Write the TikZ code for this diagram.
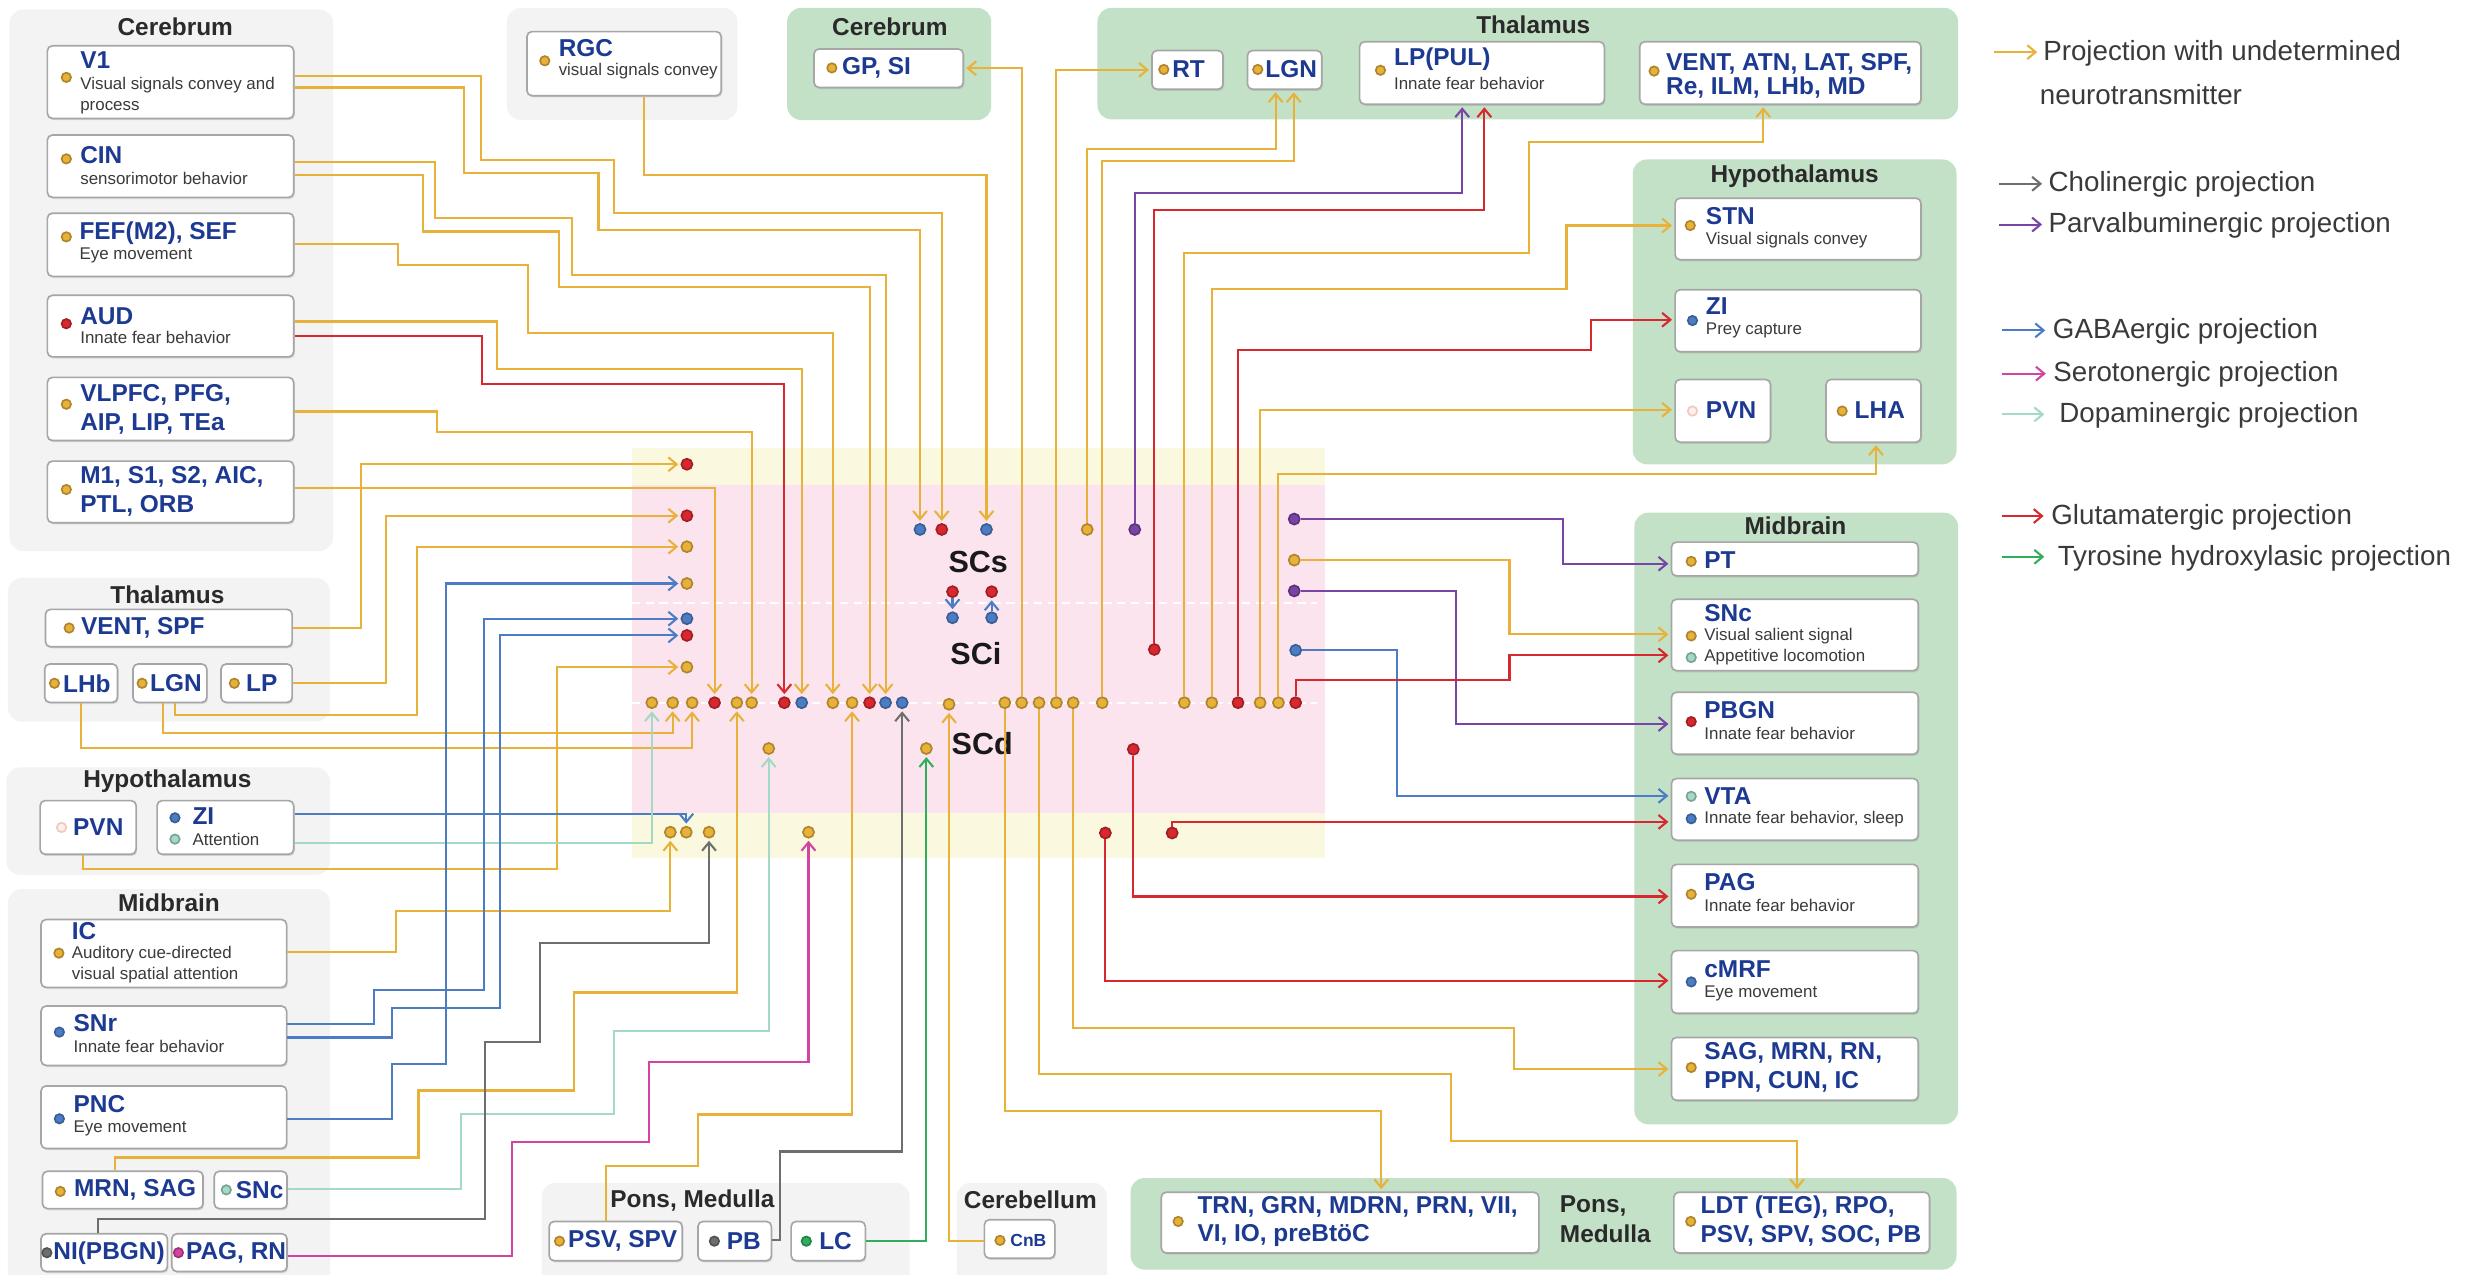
\documentclass[tikz,border=0pt]{standalone}
\usepackage{fontspec}
\setmainfont{Liberation Sans}
\usetikzlibrary{arrows.meta,fit,shadows}
\definecolor{cy}{HTML}{E8B23A}
\definecolor{cr}{HTML}{D7282F}
\definecolor{cb}{HTML}{4C7DC4}
\definecolor{cp}{HTML}{7A44A6}
\definecolor{cg}{HTML}{6E6E6E}
\definecolor{cm}{HTML}{D243A2}
\definecolor{cd}{HTML}{A3D9C5}
\definecolor{ct}{HTML}{2FAE5C}
\definecolor{navy}{HTML}{1D3A92}
\definecolor{inkgray}{HTML}{2A2A2A}
\definecolor{dscgray}{HTML}{3A3A3A}
\definecolor{pangray}{HTML}{F3F3F3}
\definecolor{pangreen}{HTML}{C3E1C6}
\definecolor{scyellow}{HTML}{FAF8DF}
\definecolor{scpink}{HTML}{FBE4EE}
\definecolor{pvnring}{HTML}{F4C6BD}
\definecolor{pvnfill}{HTML}{FDF1EE}
\tikzset{
  gpan/.style={fill=pangray,rounded corners=5pt,inner sep=0pt},
  grpan/.style={fill=pangreen,rounded corners=5pt,inner sep=0pt},
  rbox/.style={draw=black!35,fill=white,rounded corners=1.8pt,line width=0.6pt,inner sep=0pt,drop shadow={shadow xshift=0.4pt,shadow yshift=-0.6pt,opacity=0.25}},
  hdr/.style={font=\fontsize{8.8}{10}\selectfont\bfseries,text=inkgray,inner sep=0pt},
  lbl/.style={font=\fontsize{8.8}{10.4}\selectfont\bfseries,text=navy,anchor=west,inner sep=0pt,align=left},
  dsc/.style={font=\fontsize{6.1}{7.4}\selectfont,text=dscgray,anchor=west,inner sep=0pt,align=left},
  sclbl/.style={font=\fontsize{11}{12}\selectfont\bfseries,text=black!90,inner sep=0pt},
  lgd/.style={font=\fontsize{10}{12}\selectfont,text=dscgray,anchor=west,inner sep=0pt},
  sdot/.style={circle,inner sep=0pt,minimum size=4pt,line width=0.6pt,fill=#1,draw=#1!75!black},
  bdot/.style={sdot=#1,minimum size=3.4pt},
  pvdot/.style={circle,inner sep=0pt,minimum size=3.4pt,line width=0.6pt,fill=pvnfill,draw=pvnring},
  pj/.style={draw=#1,line width=0.75pt,-{Straight Barb[length=3pt,width=5pt]},shorten >=0.8pt},
}
\begin{document}
\begin{tikzpicture}[x=0.02cm,y=-0.02cm]
\useasboundingbox (0,0) rectangle (1568,807.4);
\node[gpan,fit={(6,6) (211,349)}] (cerLpan) {};
\node[gpan,fit={(321,5) (467,76)}] (rgcpan) {};
\node[gpan,fit={(5,366) (209,457)}] (thaLpan) {};
\node[gpan,fit={(4,486) (209,554)}] (hypLpan) {};
\node[gpan,fit={(5,563) (209,830)}] (midLpan) {};
\node[gpan,fit={(343,749) (576,830)}] (ponLpan) {};
\node[gpan,fit={(606,749) (701,830)}] (cbepan) {};
\node[grpan,fit={(498.5,5) (627.7,76)}] (cerRpan) {};
\node[grpan,fit={(695,5) (1240,75.6)}] (thaRpan) {};
\node[grpan,fit={(1034,101) (1239,294)}] (hypRpan) {};
\node[grpan,fit={(1035,324.7) (1240,712)}] (midRpan) {};
\node[grpan,fit={(716,746) (1239,804)}] (ponRpan) {};
\fill[scyellow] (400,284) rectangle (839,543.6);
\fill[scpink] (400,307) rectangle (839,515);
\draw[white,line width=0.6pt,dash pattern=on 3pt off 2pt] (400,382) -- (834,382);
\draw[white,line width=0.6pt,dash pattern=on 3pt off 2pt] (400,445) -- (834,445);
\node[sclbl] (scs) at (619.5,356) {SCs};
\node[sclbl] (sci) at (618,414) {SCi};
\node[sclbl] (scd) at (622,471) {SCd};
\node[hdr] (cerLhdr) at (111,17) {Cerebrum};
\node[hdr] (thaLhdr) at (106,376.5) {Thalamus};
\node[hdr] (hypLhdr) at (106,495) {Hypothalamus};
\node[hdr] (midLhdr) at (107,572) {Midbrain};
\node[hdr] (ponLhdr) at (438.5,760) {Pons, Medulla};
\node[hdr] (cbehdr) at (652.5,760) {Cerebellum};
\node[hdr] (cerRhdr) at (563.5,17) {Cerebrum};
\node[hdr] (thaRhdr) at (971,16) {Thalamus};
\node[hdr] (hypRhdr) at (1136.5,111.5) {Hypothalamus};
\node[hdr] (midRhdr) at (1137,333) {Midbrain};
\node[hdr,anchor=west] (ponRa) at (987.5,764) {Pons,};
\node[hdr,anchor=west] (ponRb) at (987.5,781) {Medulla};
\node[rbox,fit={(30,29) (186,75)}] (v1box) {};
\node[bdot=cy] (v1dot) at (42,49) {};
\node[lbl] (v1lbl) at (50.5,38) {V1};
\node[dsc] (v1dsc) at (50.5,60.5) {Visual signals convey and\\process};
\node[rbox,fit={(30,85.5) (186,125)}] (cinbox) {};
\node[bdot=cy] (cindot) at (42,100.6) {};
\node[lbl] (cinlbl) at (50.5,98) {CIN};
\node[dsc] (cindsc) at (50.5,113) {sensorimotor behavior};
\node[rbox,fit={(30,135) (186,175)}] (fefbox) {};
\node[bdot=cy] (fefdot) at (42,150) {};
\node[lbl] (feflbl) at (50,147.5) {FEF(M2), SEF};
\node[dsc] (fefdsc) at (50,162) {Eye movement};
\node[rbox,fit={(30,187) (186,226)}] (audbox) {};
\node[bdot=cr] (auddot) at (42,205) {};
\node[lbl] (audlbl) at (50.5,200) {AUD};
\node[dsc] (auddsc) at (50.5,214) {Innate fear behavior};
\node[rbox,fit={(30,239) (186,279)}] (vlpbox) {};
\node[bdot=cy] (vlpdot) at (42,256) {};
\node[lbl] (vlplbl) at (50.5,259) {VLPFC, PFG,\\AIP, LIP, TEa};
\node[rbox,fit={(30,292) (186,331)}] (motbox) {};
\node[bdot=cy] (motdot) at (42,310) {};
\node[lbl] (motlbl) at (50.5,311) {M1, S1, S2, AIC,\\PTL, ORB};
\node[rbox,fit={(333.7,20) (456.7,60.6)}] (rgcbox) {};
\node[bdot=cy] (rgcdot) at (345,38.5) {};
\node[lbl] (rgclbl) at (353.5,30.5) {RGC};
\node[dsc] (rgcdsc) at (353.5,45) {visual signals convey};
\node[rbox,fit={(515.5,31) (610,55.4)}] (gpsibox) {};
\node[bdot=cy] (gpsidot) at (526.8,43) {};
\node[lbl] (gpsilbl) at (533,43) {GP, SI};
\node[rbox,fit={(729.5,32) (774.5,56.5)}] (rtbox) {};
\node[bdot=cy] (rtdot) at (737,44) {};
\node[lbl] (rtlbl) at (742,44) {RT};
\node[rbox,fit={(790,32) (837,56.5)}] (lgnRbox) {};
\node[bdot=cy] (lgnRdot) at (796.5,44) {};
\node[lbl] (lgnRlbl) at (801,44) {LGN};
\node[rbox,fit={(861,26.4) (1016,66)}] (lppbox) {};
\node[bdot=cy] (lppdot) at (874.2,44.5) {};
\node[lbl] (lpplbl) at (882.5,37.7) {LP(PUL)};
\node[dsc] (lppdsc) at (882.5,52.8) {Innate fear behavior};
\node[rbox,fit={(1038.4,26.4) (1216.5,66)}] (ventRbox) {};
\node[bdot=cy] (ventRdot) at (1047.5,45) {};
\node[lbl,font=\fontsize{8.8}{8.8}\selectfont\bfseries] (ventRlbl) at (1054.8,47.9) {VENT, ATN, LAT, SPF,\\Re, ILM, LHb, MD};
\node[rbox,fit={(1060.8,125.5) (1216.5,164.5)}] (stnbox) {};
\node[bdot=cy] (stndot) at (1070.4,142.8) {};
\node[lbl] (stnlbl) at (1080,136.7) {STN};
\node[dsc] (stndsc) at (1080,151.9) {Visual signals convey};
\node[rbox,fit={(1060.8,183.5) (1216.5,222.8)}] (ziRbox) {};
\node[bdot=cb] (ziRdot) at (1071.8,203) {};
\node[lbl] (ziRlbl) at (1080,194) {ZI};
\node[dsc] (ziRdsc) at (1080,209.4) {Prey capture};
\node[rbox,fit={(1060.8,240.3) (1121.2,280)}] (pvnRbox) {};
\node[pvdot] (pvnRdot) at (1071.8,260.3) {};
\node[lbl] (pvnRlbl) at (1080,260) {PVN};
\node[rbox,fit={(1156.4,240.3) (1216.5,280)}] (lhabox) {};
\node[bdot=cy] (lhadot) at (1166.6,260.3) {};
\node[lbl] (lhalbl) at (1174.2,260) {LHA};
\node[rbox,fit={(1058.5,343.3) (1214.8,364.7)}] (ptbox) {};
\node[bdot=cy] (ptdot) at (1071,355.5) {};
\node[lbl] (ptlbl) at (1079,354.4) {PT};
\node[rbox,fit={(1058.5,379.5) (1214.8,424.7)}] (sncRbox) {};
\node[lbl] (sncRlbl) at (1079,388) {SNc};
\node[bdot=cy] (sncRdota) at (1071,402.7) {};
\node[dsc] (sncRdsca) at (1079,402.7) {Visual salient signal};
\node[bdot=cd] (sncRdotb) at (1071,416.4) {};
\node[dsc] (sncRdscb) at (1079,416.4) {Appetitive locomotion};
\node[rbox,fit={(1058.5,438.4) (1214.8,477.6)}] (pbgnbox) {};
\node[bdot=cr] (pbgndot) at (1071,457) {};
\node[lbl] (pbgnlbl) at (1079,449.5) {PBGN};
\node[dsc] (pbgndsc) at (1079,464.2) {Innate fear behavior};
\node[rbox,fit={(1058.5,493) (1214.8,532)}] (vtabox) {};
\node[bdot=cd] (vtadota) at (1071,504.3) {};
\node[lbl] (vtalbl) at (1079,504) {VTA};
\node[bdot=cb] (vtadotb) at (1071,518.5) {};
\node[dsc] (vtadsc) at (1079,518.5) {Innate fear behavior, sleep};
\node[rbox,fit={(1058.5,547.4) (1214.8,587)}] (pagRbox) {};
\node[bdot=cy] (pagRdot) at (1071,566.3) {};
\node[lbl] (pagRlbl) at (1079,558.5) {PAG};
\node[dsc] (pagRdsc) at (1079,573.3) {Innate fear behavior};
\node[rbox,fit={(1058.5,602) (1214.8,641.7)}] (cmrfbox) {};
\node[bdot=cb] (cmrfdot) at (1071,621.8) {};
\node[lbl] (cmrflbl) at (1079,614) {cMRF};
\node[dsc] (cmrfdsc) at (1079,629) {Eye movement};
\node[rbox,fit={(1058.5,657) (1214.8,696.8)}] (sagbox) {};
\node[bdot=cy] (sagdot) at (1071,676) {};
\node[lbl] (saglbl) at (1079,676) {SAG, MRN, RN,\\PPN, CUN, IC};
\node[rbox,fit={(28.8,385.9) (185,409.6)}] (vspfbox) {};
\node[bdot=cy] (vspfdot) at (43.8,397.7) {};
\node[lbl] (vspflbl) at (51,397.7) {VENT, SPF};
\node[rbox,fit={(28.3,420.5) (74.4,444.8)}] (lhbbox) {};
\node[bdot=cy] (lhbdot) at (34.5,432.7) {};
\node[lbl] (lhblbl) at (39.6,432.7) {LHb};
\node[rbox,fit={(84.2,420.5) (131,444.8)}] (lgnLbox) {};
\node[bdot=cy] (lgnLdot) at (90,432.7) {};
\node[lbl] (lgnLlbl) at (94.7,432.7) {LGN};
\node[rbox,fit={(140,420.5) (185,444.8)}] (lpLbox) {};
\node[bdot=cy] (lpLdot) at (148.4,432.7) {};
\node[lbl] (lpLlbl) at (155.5,432.7) {LP};
\node[rbox,fit={(25.4,507) (86.2,541)}] (pvnLbox) {};
\node[pvdot] (pvnLdot) at (39,524) {};
\node[lbl] (pvnLlbl) at (46,524) {PVN};
\node[rbox,fit={(99.5,507) (186,541)}] (ziLbox) {};
\node[bdot=cb] (ziLdota) at (110.8,517.9) {};
\node[lbl] (ziLlbl) at (121.6,517) {ZI};
\node[bdot=cd] (ziLdotb) at (110.8,531.4) {};
\node[dsc] (ziLdsc) at (121.6,531.4) {Attention};
\node[rbox,fit={(26,582.3) (181.5,625.3)}] (icbox) {};
\node[lbl] (iclbl) at (45.2,589.5) {IC};
\node[bdot=cy] (icdot) at (37.3,603.6) {};
\node[dsc] (icdsc) at (45.2,610.8) {Auditory cue-directed\\visual spatial attention};
\node[rbox,fit={(26,637.1) (181.5,674.7)}] (snrbox) {};
\node[bdot=cb] (snrdot) at (37.6,653.6) {};
\node[lbl] (snrlbl) at (46.3,648) {SNr};
\node[dsc] (snrdsc) at (46.3,663) {Innate fear behavior};
\node[rbox,fit={(26,687.7) (181.5,727.3)}] (pncbox) {};
\node[bdot=cb] (pncdot) at (37.6,708.5) {};
\node[lbl] (pnclbl) at (46.3,699.2) {PNC};
\node[dsc] (pncdsc) at (46.3,714.3) {Eye movement};
\node[rbox,fit={(26.9,741.7) (128.6,765.4)}] (mrnbox) {};
\node[bdot=cy] (mrndot) at (38.2,754.5) {};
\node[lbl] (mrnlbl) at (46.6,753.5) {MRN, SAG};
\node[rbox,fit={(135.7,741.7) (181.8,765.4)}] (sncLbox) {};
\node[bdot=cd] (sncLdot) at (143.3,753.5) {};
\node[lbl] (sncLlbl) at (149,753.5) {SNc};
\node[rbox,fit={(26,781.3) (106,805.2)}] (nibox) {};
\node[bdot=cg] (nidot) at (29.7,793.3) {};
\node[lbl] (nilbl) at (33.5,793.3) {NI(PBGN)};
\node[rbox,fit={(108.8,781.3) (181.8,805.2)}] (pagLbox) {};
\node[bdot=cm] (pagLdot) at (113,793.3) {};
\node[lbl] (pagLlbl) at (117.5,793.3) {PAG, RN};
\node[rbox,fit={(347.8,773.5) (432,798.4)}] (psvbox) {};
\node[bdot=cy] (psvdot) at (354.3,786) {};
\node[lbl] (psvlbl) at (359.5,786) {PSV, SPV};
\node[rbox,fit={(442,773.5) (488.5,798.4)}] (pbbox) {};
\node[bdot=cg] (pbdot) at (452.4,786) {};
\node[lbl] (pblbl) at (460,786) {PB};
\node[rbox,fit={(501,773.5) (548,798.4)}] (lcbox) {};
\node[bdot=ct] (lcdot) at (510.6,786) {};
\node[lbl] (lclbl) at (518.5,786) {LC};
\node[rbox,fit={(623.4,772.4) (668,796.8)}] (cnbbox) {};
\node[bdot=cy] (cnbdot) at (633.3,785.5) {};
\node[lbl,font=\fontsize{6.3}{7}\selectfont\bfseries] (cnblbl) at (639.5,785.5) {CnB};
\node[rbox,fit={(735.4,755) (974.5,793.5)}] (trnbox) {};
\node[bdot=cy] (trndot) at (746.1,773.5) {};
\node[lbl] (trnlbl) at (758,773.5) {TRN, GRN, MDRN, PRN, VII,\\VI, IO, preBtöC};
\node[rbox,fit={(1060,755) (1221.9,793.5)}] (ldtbox) {};
\node[bdot=cy] (ldtdot) at (1070.7,773.5) {};
\node[lbl] (ldtlbl) at (1076.6,773.5) {LDT (TEG), RPO,\\PSV, SPV, SOC, PB};
\node[sdot=cr] (e1) at (435,294) {};
\node[sdot=cr] (e2) at (435,326.6) {};
\node[sdot=cy] (e3) at (435,346.2) {};
\node[sdot=cy] (e4) at (435,369.5) {};
\node[sdot=cb] (e5) at (435,391.8) {};
\node[sdot=cr] (e6) at (435,402.4) {};
\node[sdot=cy] (e7) at (435,422.5) {};
\node[sdot=cb] (t1) at (582.6,335.3) {};
\node[sdot=cr] (t2) at (596.4,335.3) {};
\node[sdot=cb] (t3) at (624.7,335.3) {};
\node[sdot=cy] (t4) at (688.5,335.3) {};
\node[sdot=cp] (t5) at (718.6,335.3) {};
\node[sdot=cr] (i1) at (603.2,374.7) {};
\node[sdot=cb] (i2) at (603.2,391.2) {};
\node[sdot=cb] (i3) at (628,391.2) {};
\node[sdot=cr] (i4) at (628,374.7) {};
\node[sdot=cp] (r1) at (819.6,328.7) {};
\node[sdot=cy] (r2) at (819.6,354.7) {};
\node[sdot=cp] (r3) at (819.6,374.2) {};
\node[sdot=cb] (r4) at (820.5,411.8) {};
\node[sdot=cr] (ired) at (731,411.3) {};
\node[sdot=cy] (s1) at (412.8,445) {};
\node[sdot=cy] (s2) at (426,445) {};
\node[sdot=cy] (s3) at (438.3,445) {};
\node[sdot=cr] (s4) at (452.5,445) {};
\node[sdot=cy] (s5) at (466.6,445) {};
\node[sdot=cy] (s6) at (476,445) {};
\node[sdot=cr] (s7) at (496.7,445) {};
\node[sdot=cb] (s8) at (507.7,445) {};
\node[sdot=cy] (s9) at (527.4,445) {};
\node[sdot=cy] (s10) at (539.6,445) {};
\node[sdot=cr] (s11) at (550.7,445) {};
\node[sdot=cb] (s12) at (560.8,445) {};
\node[sdot=cb] (s13) at (571.3,445) {};
\node[sdot=cy] (s14) at (601,446) {};
\node[sdot=cy] (s15) at (636.3,445) {};
\node[sdot=cy] (s16) at (647,445) {};
\node[sdot=cy] (s17) at (658,445) {};
\node[sdot=cy] (s18) at (669,445) {};
\node[sdot=cy] (s19) at (679.6,445) {};
\node[sdot=cy] (s20) at (698,445) {};
\node[sdot=cy] (s21) at (750,445) {};
\node[sdot=cy] (s22) at (767.4,445) {};
\node[sdot=cr] (s23) at (784,445) {};
\node[sdot=cy] (s24) at (798,445) {};
\node[sdot=cy] (s25) at (809.6,445) {};
\node[sdot=cr] (s26) at (820.5,445) {};
\node[sdot=cy] (d1) at (486.8,474) {};
\node[sdot=cy] (d2) at (586.6,474) {};
\node[sdot=cr] (d3) at (717.7,474.5) {};
\node[sdot=cy] (b1) at (424.5,527) {};
\node[sdot=cy] (b2) at (434.6,527) {};
\node[sdot=cy] (b3) at (449,527) {};
\node[sdot=cy] (b4) at (512,527) {};
\node[sdot=cr] (b5) at (700,527.5) {};
\node[sdot=cr] (b6) at (742.3,527.5) {};
\draw[pj=cy] (v1box.east |- 0,48) -| (304.5,101.3) -| (389,134.6) -| (t2);
\draw[pj=cy] (v1box.east |- 0,55.4) -| (294,109.3) -| (379,145.4) -| (t1);
\draw[pj=cy] (rgcbox.south -| 407.7,0) -- (407.7,110.8) -| (t3);
\draw[pj=cy] (cinbox.east |- 0,102.5) -| (275.6,138) -| (362.5,174.2) -| (s12);
\draw[pj=cy] (cinbox.east |- 0,111) -| (268,146.6) -| (354,182) -| (s11);
\draw[pj=cy] (fefbox.east |- 0,154.5) -| (252,168) -| (334.5,210.8) -| (s9);
\draw[pj=cy] (audbox.east |- 0,203.6) -| (315,233.4) -| (s8);
\draw[pj=cr] (audbox.east |- 0,212.6) -| (305,243) -| (s7);
\draw[pj=cy] (vlpbox.east |- 0,260.6) -| (276.5,273.7) -| (s6);
\draw[pj=cy] (motbox.east |- 0,309.2) -| (s4);
\draw[pj=cy] (vspfbox.east) -| (228.4,294) -- (e1);
\draw[pj=cy] (lpLbox.east) -| (244.5,326.6) -- (e2);
\draw[pj=cy] (lgnLbox.south -| 111,0) -- (111,452.9) -| (264.3,346.2) -- (e3);
\draw[pj=cy] (lgnLbox.south -| 103.2,0) -- (103.2,463.9) -| (s2);
\draw[pj=cy] (lhbbox.south -| 51.5,0) -- (51.5,473.7) -| (s3);
\draw[pj=cy] (pvnLbox.south -| 52.3,0) -- (52.3,550.5) -| (352.8,422.5) -- (e7);
\draw[pj=cb] (ziLbox.east |- 0,515.6) -| (b2);
\draw[pj=cd] (ziLbox.east |- 0,533.8) -| (s1);
\draw[pj=cy] (icbox.east |- 0,603) -| (251,577) -| (b1);
\draw[pj=cb] (snrbox.east |- 0,648.4) -| (237,627) -| (306.7,391.8) -- (e5);
\draw[pj=cb] (snrbox.east |- 0,657) -| (248,638.6) -| (316.6,402.4) -- (e6);
\draw[pj=cb] (pncbox.east |- 0,708.5) -| (248,673.8) -| (282.7,369.5) -- (e4);
\draw[pj=cy] (mrnbox.north -| 73,0) -- (73,733) -| (265,690.6) -| (363.3,628.5) -| (s5);
\draw[pj=cd] (sncLbox.east |- 0,753.2) -| (292,705.6) -| (388.7,653) -| (d1);
\draw[pj=cg] (nibox.north -| 62.2,0) -- (62.2,772) -| (307.2,660) -| (342,597) -| (b3);
\draw[pj=cm] (pagLbox.east |- 0,795.5) -| (324.5,723) -| (410.8,672.7) -| (b4);
\draw[pj=cy] (psvbox.north -| 384,0) -- (384,738.3) -| (442,705.8) -| (s10);
\draw[pj=cg] (pbbox.east |- 0,785) -| (494,729.2) -| (s13);
\draw[pj=ct] (lcbox.east |- 0,785.6) -| (d2);
\draw[pj=cy] (cnbbox.west |- 0,786) -| (s14);
\draw[pj=cb] (i1) -- (i2);
\draw[pj=cb] (i3) -- (i4);
\draw[pj=cy] (s16) |- (gpsibox.east);
\draw[pj=cy] (s18) |- (rtbox.west);
\draw[pj=cy] (t4) |- (807.8,94.5) -- (lgnRbox.south -| 807.8,0);
\draw[pj=cy] (s20) |- (819.3,102.2) -- (lgnRbox.south -| 819.3,0);
\draw[pj=cp] (t5) |- (926,122) -- (lppbox.south -| 926,0);
\draw[pj=cr] (ired) |- (940,133) -- (lppbox.south -| 940,0);
\draw[pj=cy] (s21) |- (968,160) |- (1116.6,89.8) -- (ventRbox.south -| 1116.6,0);
\draw[pj=cy] (s22) |- (992,183) |- (stnbox.west |- 0,142.8);
\draw[pj=cr] (s23) |- (1007.4,221.6) |- (ziRbox.west |- 0,202.5);
\draw[pj=cy] (s24) |- (pvnRbox.west |- 0,259.5);
\draw[pj=cy] (s25) |- (1188,300) -- (lhabox.south -| 1188,0);
\draw[pj=cp] (r1) -| (990,357) -- (ptbox.west |- 0,357);
\draw[pj=cy] (r2) -| (955.9,401.7) -- (sncRbox.west |- 0,401.7);
\draw[pj=cp] (r3) -| (922.2,458.5) -- (pbgnbox.west |- 0,458.5);
\draw[pj=cb] (r4) -| (884.5,504) -- (vtabox.west |- 0,504);
\draw[pj=cr] (s26) |- (955.9,430.6) |- (sncRbox.west |- 0,415);
\draw[pj=cr] (b6) |- (vtabox.west |- 0,520.5);
\draw[pj=cr] (d3) |- (pagRbox.west |- 0,567.7);
\draw[pj=cr] (b5) |- (cmrfbox.west |- 0,621);
\draw[pj=cy] (s19) |- (959,651) |- (sagbox.west |- 0,677);
\draw[pj=cy] (s17) |- (918.8,680) |- (1138,722.5) -- (ldtbox.north -| 1138,0);
\draw[pj=cy] (s15) |- (874.7,703.6) -- (trnbox.north -| 874.7,0);
\coordinate (lga1) at (1263,33);
\coordinate (lgb1) at (1291.5,33);
\draw[pj=cy] (lga1) -- (lgb1);
\node[lgd] (lgt1) at (1293.6,34) {Projection with undetermined};
\node[lgd] (lgt1b) at (1291.5,60) {neurotransmitter};
\coordinate (lga2) at (1266,116.4);
\coordinate (lgb2) at (1294.6,116.4);
\draw[pj=cg] (lga2) -- (lgb2);
\node[lgd] (lgt2) at (1297,117) {Cholinergic projection};
\coordinate (lga3) at (1266,142.2);
\coordinate (lgb3) at (1294.6,142.2);
\draw[pj=cp] (lga3) -- (lgb3);
\node[lgd] (lgt3) at (1297,143) {Parvalbuminergic projection};
\coordinate (lga4) at (1268,209.2);
\coordinate (lgb4) at (1296.6,209.2);
\draw[pj=cb] (lga4) -- (lgb4);
\node[lgd] (lgt4) at (1299.7,210) {GABAergic projection};
\coordinate (lga5) at (1268,236.6);
\coordinate (lgb5) at (1297,236.6);
\draw[pj=cm] (lga5) -- (lgb5);
\node[lgd] (lgt5) at (1300,237) {Serotonergic projection};
\coordinate (lga6) at (1268,262.4);
\coordinate (lgb6) at (1296,262.4);
\draw[pj=cd] (lga6) -- (lgb6);
\node[lgd] (lgt6) at (1303.8,263) {Dopaminergic projection};
\coordinate (lga7) at (1268,326.8);
\coordinate (lgb7) at (1295.6,326.8);
\draw[pj=cr] (lga7) -- (lgb7);
\node[lgd] (lgt7) at (1298.7,327.5) {Glutamatergic projection};
\coordinate (lga8) at (1268,352.6);
\coordinate (lgb8) at (1296,352.6);
\draw[pj=ct] (lga8) -- (lgb8);
\node[lgd] (lgt8) at (1302.8,353.5) {Tyrosine hydroxylasic projection};
\end{tikzpicture}
\end{document}
